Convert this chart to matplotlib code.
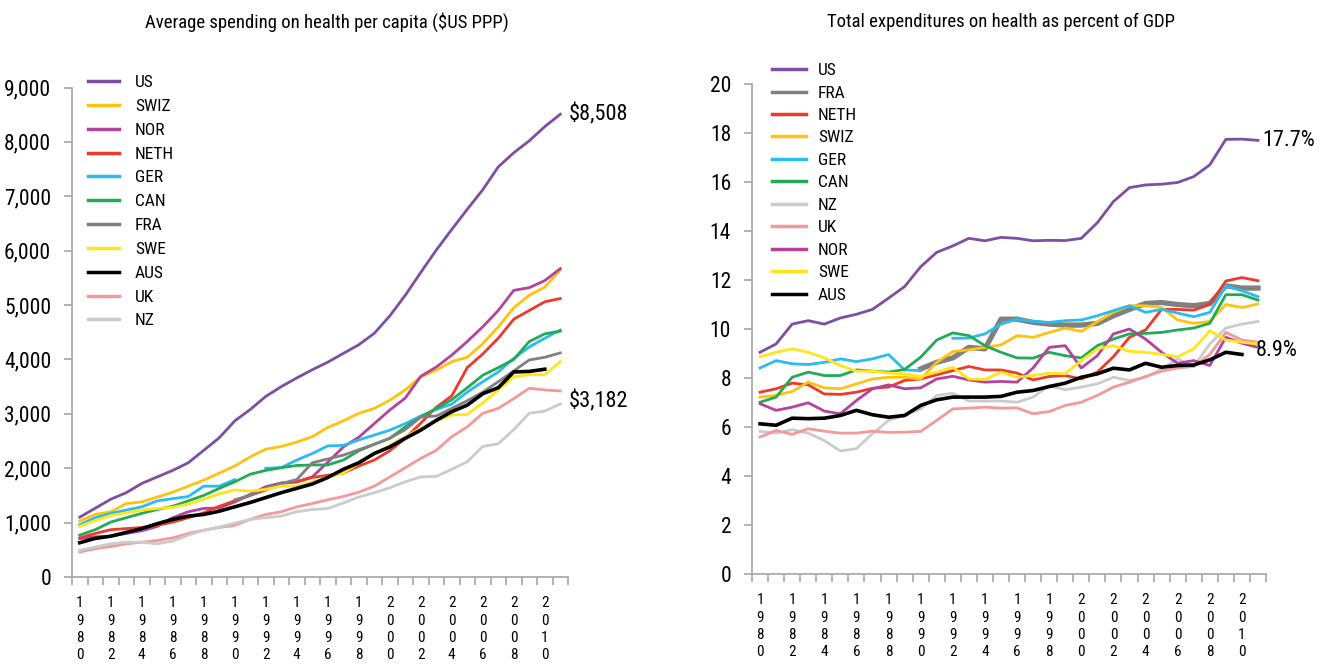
import numpy as np
import matplotlib
matplotlib.use("Agg")
import matplotlib.pyplot as plt
from matplotlib import font_manager

_available = {f.name for f in font_manager.fontManager.ttflist}
_prefs = ['Roboto Condensed', 'Archivo Narrow', 'PT Sans Narrow', 'Open Sans Condensed', 'Liberation Sans Narrow']
_narrow = [p for p in _prefs if p in _available]
plt.rcParams['font.family'] = _narrow[:1] + ['DejaVu Sans']
NARROW = bool(_narrow)

years = list(range(1980, 2012))
nan = np.nan

# ---------- Left chart: spending per capita ($US PPP) ----------
pc_US = [1100, 1265, 1430, 1550, 1720, 1840, 1960, 2100, 2330, 2560, 2870, 3080, 3320, 3500, 3660, 3810,
         3950, 4110, 4270, 4480, 4800, 5180, 5600, 6010, 6390, 6760, 7120, 7540, 7800, 8020, 8280, 8508]
pc_SWIZ = [1030, 1150, 1200, 1350, 1380, 1470, 1560, 1670, 1780, 1910, 2040, 2210, 2350, 2400, 2480, 2580,
           2750, 2870, 3010, 3100, 3250, 3440, 3680, 3800, 3960, 4040, 4290, 4600, 4950, 5180, 5330, 5643]
pc_NOR = [705, 740, 750, 800, 850, 930, 1090, 1200, 1260, 1270, 1380, 1520, 1660, 1730, 1750, 1840,
          2110, 2390, 2570, 2820, 3070, 3290, 3690, 3860, 4080, 4330, 4600, 4900, 5270, 5320, 5450, 5669]
pc_NETH = [720, 800, 870, 890, 910, 950, 1010, 1090, 1180, 1300, 1400, 1500, 1600, 1720, 1750, 1830,
           1870, 1910, 2040, 2150, 2320, 2550, 2830, 3120, 3330, 3850, 4100, 4390, 4740, 4900, 5060, 5120]
pc_GER = [960, 1090, 1170, 1230, 1290, 1400, 1440, 1480, 1670, 1670, 1790, nan, 2000, 2010, 2150, 2270,
          2410, 2420, 2520, 2610, 2700, 2820, 2960, 3080, 3180, 3400, 3590, 3770, 4020, 4230, 4390, 4540]
pc_CAN = [770, 870, 1010, 1090, 1170, 1240, 1300, 1400, 1500, 1630, 1750, 1890, 1960, 2010, 2050, 2060,
          2060, 2150, 2320, 2440, 2550, 2760, 2940, 3100, 3260, 3480, 3710, 3850, 4000, 4330, 4470, 4522]
pc_FRA = [nan, nan, nan, nan, nan, nan, nan, nan, nan, nan, 1420, 1500, 1630, 1720, 1790, 2100,
          2170, 2240, 2340, 2440, 2550, 2710, 2940, 2960, 3100, 3240, 3400, 3590, 3790, 3990, 4040, 4120]
pc_SWE = [930, 1040, 1130, 1180, 1230, 1260, 1280, 1340, 1430, 1530, 1600, 1580, 1610, 1670, 1670, 1750,
          1840, 1910, 2090, 2260, 2420, 2580, 2730, 2870, 2980, 2990, 3200, 3440, 3680, 3720, 3720, 3960]
pc_AUS = [630, 710, 750, 820, 890, 980, 1060, 1120, 1150, 1210, 1290, 1370, 1460, 1550, 1630, 1710,
          1830, 1980, 2100, 2270, 2390, 2550, 2700, 2880, 3040, 3160, 3370, 3480, 3770, 3780, 3820, nan]
pc_UK = [460, 520, 560, 610, 640, 670, 720, 800, 860, 910, 950, 1060, 1150, 1200, 1290, 1350,
         1420, 1480, 1560, 1670, 1840, 2010, 2180, 2330, 2580, 2760, 3010, 3100, 3280, 3470, 3440, 3420]
pc_NZ = [490, 550, 610, 640, 640, 610, 660, 770, 860, 920, 990, 1060, 1090, 1120, 1200, 1240,
         1260, 1360, 1470, 1550, 1640, 1750, 1840, 1850, 1980, 2120, 2400, 2450, 2710, 3010, 3050, 3182]

# ---------- Right chart: % of GDP ----------
g_US = [9.05, 9.39, 10.2, 10.34, 10.2, 10.45, 10.6, 10.8, 11.26, 11.73, 12.54, 13.13, 13.39, 13.7, 13.6, 13.74,
        13.7, 13.6, 13.62, 13.61, 13.7, 14.34, 15.2, 15.77, 15.88, 15.91, 15.98, 16.22, 16.7, 17.74, 17.75, 17.7]
g_FRA = [nan, nan, nan, nan, nan, nan, nan, nan, nan, nan, 8.37, 8.64, 8.82, 9.25, 9.19, 10.4,
         10.4, 10.27, 10.2, 10.16, 10.16, 10.23, 10.54, 10.8, 11.04, 11.08, 11.0, 10.95, 11.04, 11.76, 11.67, 11.67]
g_NETH = [7.42, 7.56, 7.79, 7.72, 7.35, 7.33, 7.42, 7.58, 7.63, 7.9, 7.96, 8.13, 8.3, 8.47, 8.33, 8.33,
          8.2, 7.92, 8.06, 8.1, 7.96, 8.24, 8.87, 9.66, 9.96, 10.8, 10.8, 10.77, 11.0, 11.96, 12.1, 11.97]
g_SWIZ = [7.22, 7.29, 7.45, 7.83, 7.6, 7.56, 7.76, 7.96, 8.03, 8.03, 7.96, 8.64, 9.08, 9.15, 9.25, 9.35,
          9.73, 9.66, 9.86, 10.04, 9.9, 10.3, 10.68, 10.95, 10.95, 10.88, 10.37, 10.23, 10.31, 11.0, 10.88, 11.02]
g_GER = [8.41, 8.71, 8.58, 8.55, 8.64, 8.78, 8.67, 8.78, 8.96, 8.33, 8.3, nan, 9.62, 9.63, 9.8, 10.2,
         10.4, 10.31, 10.27, 10.34, 10.37, 10.54, 10.75, 10.95, 10.68, 10.8, 10.65, 10.5, 10.68, 11.76, 11.56, 11.32]
g_CAN = [7.01, 7.22, 8.03, 8.24, 8.1, 8.1, 8.33, 8.28, 8.24, 8.35, 8.85, 9.55, 9.84, 9.73, 9.32, 9.05,
         8.82, 8.81, 9.05, 8.91, 8.82, 9.32, 9.59, 9.8, 9.82, 9.86, 9.96, 10.04, 10.23, 11.4, 11.4, 11.18]
g_NZ = [5.82, 5.75, 5.89, 5.75, 5.45, 5.02, 5.12, 5.73, 6.27, 6.47, 6.74, 7.29, 7.38, 7.06, 7.06, 7.06,
        7.01, 7.22, 7.69, 7.52, 7.63, 7.76, 8.03, 7.9, 8.03, 8.37, 8.78, 8.47, 9.39, 10.04, 10.2, 10.31]
g_UK = [5.59, 5.86, 5.7, 5.93, 5.83, 5.75, 5.75, 5.83, 5.78, 5.79, 5.82, 6.27, 6.74, 6.77, 6.81, 6.77,
        6.78, 6.54, 6.63, 6.88, 7.01, 7.29, 7.63, 7.83, 8.06, 8.28, 8.41, 8.47, 8.96, 9.86, 9.55, 9.46]
g_NOR = [6.95, 6.68, 6.81, 6.99, 6.65, 6.54, 7.08, 7.56, 7.72, 7.56, 7.6, 7.96, 8.07, 7.92, 7.83, 7.86,
         7.83, 8.41, 9.25, 9.32, 8.41, 8.91, 9.8, 10.0, 9.59, 9.05, 8.6, 8.71, 8.51, 9.66, 9.42, 9.25]
g_SWE = [8.87, 9.05, 9.19, 9.05, 8.82, 8.51, 8.28, 8.28, 8.2, 8.17, 8.06, 8.24, 8.44, 7.96, 7.94, 8.24,
         8.03, 8.1, 8.2, 8.17, 8.71, 9.19, 9.32, 9.09, 9.05, 8.96, 8.87, 9.19, 9.93, 9.55, 9.46, 9.39]
g_AUS = [6.13, 6.07, 6.36, 6.34, 6.36, 6.47, 6.68, 6.5, 6.4, 6.47, 6.88, 7.11, 7.22, 7.22, 7.22, 7.25,
         7.42, 7.49, 7.65, 7.79, 8.03, 8.17, 8.4, 8.33, 8.6, 8.44, 8.51, 8.53, 8.74, 9.05, 8.96, nan]

colors = {
    'US': '#7E4EA3', 'SWIZ': '#FFC20E', 'NOR': '#B5429C', 'NETH': '#EE3A2A', 'GER': '#29BDEF',
    'CAN': '#22AA57', 'FRA': '#808080', 'SWE': '#FFE51A', 'AUS': '#000000', 'UK': '#F4999B', 'NZ': '#CBCBCB',
}

left_order = ['US', 'SWIZ', 'NOR', 'NETH', 'GER', 'CAN', 'FRA', 'SWE', 'AUS', 'UK', 'NZ']
left_data = {'US': pc_US, 'SWIZ': pc_SWIZ, 'NOR': pc_NOR, 'NETH': pc_NETH, 'GER': pc_GER, 'CAN': pc_CAN,
             'FRA': pc_FRA, 'SWE': pc_SWE, 'AUS': pc_AUS, 'UK': pc_UK, 'NZ': pc_NZ}
right_order = ['US', 'FRA', 'NETH', 'SWIZ', 'GER', 'CAN', 'NZ', 'UK', 'NOR', 'SWE', 'AUS']
right_data = {'US': g_US, 'FRA': g_FRA, 'NETH': g_NETH, 'SWIZ': g_SWIZ, 'GER': g_GER, 'CAN': g_CAN,
              'NZ': g_NZ, 'UK': g_UK, 'NOR': g_NOR, 'SWE': g_SWE, 'AUS': g_AUS}

k = 1.0 if NARROW else 0.8
FS_TICK_Y = 15.5 * k
FS_TICK_X = 11 * k
FS_TITLE = 13.5 * k
FS_ANN = 16 * k
FS_LEG = 12.5 * k

W, H = 1320, 667
fig = plt.figure(figsize=(W / 100, H / 100), dpi=100)
ax1 = fig.add_axes([72 / W, 1 - 577 / H, 496 / W, (577 - 87.5) / H])
ax2 = fig.add_axes([752 / W, 1 - 574 / H, 514 / W, 490 / H])

axis_gray = '#A6A6A6'
label_years = [y for y in years if y % 2 == 0]


def style_axis(ax, ymax, ystep, fmt):
    for s in ['top', 'right']:
        ax.spines[s].set_visible(False)
    for s in ['left', 'bottom']:
        ax.spines[s].set_color(axis_gray)
        ax.spines[s].set_linewidth(1.2)
    ax.set_xlim(1979.5, 2011.5)
    ax.set_ylim(0, ymax)
    ax.set_yticks(np.arange(0, ymax + 0.1, ystep))
    ax.set_yticklabels([fmt(v) for v in np.arange(0, ymax + 0.1, ystep)], fontsize=FS_TICK_Y)
    ax.tick_params(axis='y', direction='out', length=6, color=axis_gray, width=1.2, pad=9)
    ax.set_xticks(label_years)
    ax.set_xticklabels(['\n'.join(str(y)) for y in label_years], fontsize=FS_TICK_X, linespacing=1.28)
    ax.tick_params(axis='x', which='major', length=0, pad=14)
    ax.set_xticks(np.arange(1979.5, 2012, 1.0), minor=True)
    ax.tick_params(axis='x', which='minor', direction='out', length=6, color=axis_gray, width=1.2)


style_axis(ax1, 9000, 1000, lambda v: f"{int(v):,}")
style_axis(ax2, 20, 2, lambda v: f"{int(v)}")

for name in left_order:
    lw = 2.6 if name == 'AUS' else 2.0
    z = 5 if name == 'AUS' else 3
    ax1.plot(years, left_data[name], color=colors[name], lw=lw, label=name, zorder=z,
             solid_joinstyle='round')

for name in right_order:
    lw = 2.0
    if name == 'AUS':
        lw = 2.6
    if name == 'FRA':
        lw = 3.8
    ax2.plot(years, right_data[name], color=colors[name], lw=lw, label=name, zorder=3,
             solid_joinstyle='round')

fig.text(327 / W, 1 - 22 / H, 'Average spending on health per capita ($US PPP)', ha='center', va='center',
         fontsize=FS_TITLE)
fig.text(1001 / W, 1 - 22 / H, 'Total expenditures on health as percent of GDP', ha='center', va='center',
         fontsize=FS_TITLE)

ax1.annotate(f"${pc_US[-1]:,}", xy=(years[-1], pc_US[-1]), xytext=(6, 0), textcoords='offset points',
             va='center', ha='left', fontsize=FS_ANN)
ax1.annotate(f"${pc_NZ[-1]:,}", xy=(years[-1], pc_NZ[-1]), xytext=(6, 2), textcoords='offset points',
             va='center', ha='left', fontsize=FS_ANN)
ax2.annotate("17.7%", xy=(years[-1], g_US[-1]), xytext=(3, 0), textcoords='offset points',
             va='center', ha='left', fontsize=FS_ANN)
ax2.annotate("8.9%", xy=(2010, g_AUS[-2]), xytext=(10, 3), textcoords='offset points',
             va='center', ha='left', fontsize=FS_ANN)

leg1 = ax1.legend(loc='upper left', bbox_to_anchor=(88 / W, 1 - 75 / H), bbox_transform=fig.transFigure,
                  frameon=False, fontsize=FS_LEG, handlelength=1.8 * 12.5 / FS_LEG,
                  handletextpad=0.9, labelspacing=0.5, borderpad=0, borderaxespad=0)
leg2 = ax2.legend(loc='upper left', bbox_to_anchor=(772 / W, 1 - 63 / H), bbox_transform=fig.transFigure,
                  frameon=False, fontsize=FS_LEG, handlelength=1.95 * 12.5 / FS_LEG,
                  handletextpad=0.7, labelspacing=0.42, borderpad=0, borderaxespad=0)
for leg in (leg1, leg2):
    for line in leg.get_lines():
        line.set_linewidth(2.5)

fig.savefig('out.png', dpi=100)
